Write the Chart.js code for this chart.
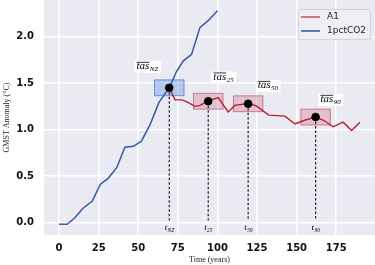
<!DOCTYPE html>
<html><head><meta charset="utf-8">
<script src="https://cdn.jsdelivr.net/npm/chart.js@4/dist/chart.umd.min.js"></script>
<style>html,body{margin:0;padding:0;background:#fff}#wrap{width:375px;height:265px}</style>
</head><body><div id="wrap"><canvas id="c" width="375" height="265"></canvas></div>
<script>
// ---- data ----
const co2Years = [0, 5, 10, 15, 21, 26, 31, 36.4, 41.6, 47, 52, 57.4, 63, 67.5, 69.6, 74, 78.5, 83.7, 89, 94, 100];
const co2Anom  = [-0.02, -0.02, 0.05, 0.15, 0.23, 0.41, 0.475, 0.59, 0.81, 0.82, 0.875, 1.05, 1.29, 1.40, 1.45, 1.62, 1.74, 1.81, 2.10, 2.17, 2.28];
const a1Years = [69.6, 73.2, 77.4, 80.5, 85.8, 89, 94.2, 100.5, 106.8, 111, 119.4, 124.5, 132.5, 142.6, 149, 155, 162, 167, 173, 179.4, 184.7, 190];
const a1Anom  = [1.45, 1.32, 1.32, 1.30, 1.25, 1.26, 1.31, 1.345, 1.19, 1.26, 1.28, 1.255, 1.155, 1.145, 1.06, 1.10, 1.135, 1.10, 1.03, 1.08, 0.99, 1.08];
const seriesNames = ['A1', '1pctCO2'];
const markerNames = ['NZ', '25', '50', '90'];
const markerYears = [69.6, 94.2, 119.4, 162];
const markerAnom  = [1.45, 1.305, 1.278, 1.135];
const tasLabelYears = [56, 104, 132, 171.6];
const tasLabelAnom  = [1.675, 1.56, 1.47, 1.32];
const xTicks = [0, 25, 50, 75, 100, 125, 150, 175];
const yTicks = [0, 0.5, 1.0, 1.5, 2.0];

const RED = 'rgb(185,30,50)';
const BLUE = 'rgb(52,90,168)';

const pts = (xs, ys) => xs.map((x, i) => ({x: x, y: ys[i]}));
const dashData = [];
markerYears.forEach((x, i) => { dashData.push({x: x, y: markerAnom[i]}, {x: x, y: 0.02}, {x: x, y: null}); });

const bgPlugin = {
  id: 'decor',
  beforeDraw(chart) {
    const a = chart.chartArea, ctx = chart.ctx;
    ctx.save(); ctx.fillStyle = '#EAEAF2';
    ctx.fillRect(a.left, a.top, a.right - a.left, a.bottom - a.top);
    ctx.restore();
  },
  beforeDatasetsDraw(chart) {
    const ctx = chart.ctx, xs = chart.scales.x, ys = chart.scales.y;
    ctx.save();
    markerYears.forEach((mx, i) => {
      const x0 = xs.getPixelForValue(mx - 9.3), x1 = xs.getPixelForValue(mx + 9.3);
      const y0 = ys.getPixelForValue(markerAnom[i] + 0.085), y1 = ys.getPixelForValue(markerAnom[i] - 0.085);
      if (i === 0) { ctx.fillStyle = 'rgba(90,140,225,0.38)'; ctx.strokeStyle = 'rgba(70,120,210,0.75)'; }
      else { ctx.fillStyle = 'rgba(205,95,130,0.30)'; ctx.strokeStyle = 'rgba(190,70,105,0.65)'; }
      ctx.lineWidth = 1;
      ctx.fillRect(x0, y0, x1 - x0, y1 - y0);
      ctx.strokeRect(x0, y0, x1 - x0, y1 - y0);
    });
    ctx.restore();
  },
  afterDatasetsDraw(chart) {
    const ctx = chart.ctx, xs = chart.scales.x, ys = chart.scales.y;
    ctx.save();
    markerNames.forEach((nm, i) => {
      const cx = xs.getPixelForValue(tasLabelYears[i]), cy = ys.getPixelForValue(tasLabelAnom[i]);
      const mainF = 'italic 11px "Liberation Serif"', subF = 'italic 7px "Liberation Serif"';
      ctx.font = mainF; const w1 = ctx.measureText('tas').width;
      ctx.font = subF; const w2 = ctx.measureText(nm).width;
      const w = w1 + w2 + 1, x0 = cx - w / 2;
      ctx.fillStyle = '#fff'; ctx.fillRect(x0 - 2, cy - 6, w + 4, 12);
      ctx.fillStyle = '#000'; ctx.textAlign = 'left'; ctx.textBaseline = 'alphabetic';
      ctx.font = mainF; ctx.fillText('tas', x0, cy + 2.5);
      ctx.fillRect(x0, cy - 5, w1, 0.8);
      ctx.font = subF; ctx.fillText(nm, x0 + w1 + 0.5, cy + 4.5);
      const tx = xs.getPixelForValue(markerYears[i]), ty = ys.getPixelForValue(-0.05);
      ctx.font = 'italic 9px "Liberation Serif"'; const tw = ctx.measureText('t').width;
      ctx.font = 'italic 5.5px "Liberation Serif"'; const sw = ctx.measureText(nm).width;
      const tx0 = tx - (tw + sw) / 2;
      ctx.font = 'italic 9px "Liberation Serif"'; ctx.fillText('t', tx0, ty + 3);
      ctx.font = 'italic 5.5px "Liberation Serif"'; ctx.fillText(nm, tx0 + tw + 0.3, ty + 5);
    });
    const lx = 298, ly = 9, lw = 72, lh = 30;
    ctx.fillStyle = 'rgba(238,238,245,0.9)'; ctx.strokeStyle = 'rgb(210,210,215)'; ctx.lineWidth = 1;
    ctx.beginPath(); ctx.roundRect(lx + 0.5, ly + 0.5, lw, lh, 2); ctx.fill(); ctx.stroke();
    const ds = chart.data.datasets;
    [0, 1].forEach((k, j) => {
      const y = ly + 8 + j * 14;
      ctx.strokeStyle = ds[k].legendColor; ctx.lineWidth = 1.6;
      ctx.beginPath(); ctx.moveTo(lx + 3, y); ctx.lineTo(lx + 22, y); ctx.stroke();
      ctx.fillStyle = '#222'; ctx.font = '9px "DejaVu Sans"'; ctx.textBaseline = 'middle';
      ctx.fillText(ds[k].label, lx + 29, y);
    });
    ctx.restore();
  }
};

const noPad = s => { s.paddingTop = 0; s.paddingBottom = 0; s.paddingLeft = 0; s.paddingRight = 0; };

new Chart(document.getElementById('c'), {
  type: 'line',
  data: {
    datasets: [
      {label: seriesNames[0], data: pts(a1Years, a1Anom), borderColor: RED, legendColor: 'rgba(195,60,80,0.85)', borderWidth: 1.4, pointRadius: 0, tension: 0, order: 2},
      {label: seriesNames[1], data: pts(co2Years, co2Anom), borderColor: BLUE, legendColor: BLUE, borderWidth: 1.5, pointRadius: 0, tension: 0, order: 2},
      {label: 'dashes', data: dashData, borderColor: '#222', borderWidth: 1.2, borderDash: [2.5, 2], pointRadius: 0, spanGaps: false, order: 3},
      {label: 'markers', type: 'scatter', data: pts(markerYears, markerAnom), backgroundColor: '#000', borderColor: '#000', pointRadius: 3.8, order: 0}
    ]
  },
  options: {
    responsive: false, devicePixelRatio: 1, animation: false,
    layout: {padding: 0, autoPadding: false},
    plugins: {legend: {display: false}, tooltip: {enabled: false}},
    scales: {
      x: {
        type: 'linear', min: -9.5, max: 199.5,
        afterBuildTicks: s => { s.ticks = xTicks.map(v => ({value: v})); },
        afterFit: s => { s.height = 30; noPad(s); },
        grid: {color: '#fff', lineWidth: 1.5, drawTicks: false},
        border: {display: false},
        ticks: {padding: 7, color: '#111', font: {family: 'DejaVu Sans', weight: 'bold', size: 10}, maxRotation: 0},
        title: {display: true, text: 'Time (years)', color: '#222', font: {family: 'Liberation Serif', size: 8}, padding: {top: 2, bottom: 0}}
      },
      y: {
        type: 'linear', min: -0.135, max: 2.395,
        afterBuildTicks: s => { s.ticks = yTicks.map(v => ({value: v})); },
        afterFit: s => { s.width = 44; noPad(s); },
        grid: {color: '#fff', lineWidth: 1.5, drawTicks: false},
        border: {display: false},
        ticks: {padding: 10, color: '#111', font: {family: 'DejaVu Sans', weight: 'bold', size: 10}, callback: v => v.toFixed(1)},
        title: {display: true, text: 'GMST Anomaly (°C)', color: '#222', font: {family: 'Liberation Serif', size: 8}, padding: {top: 2, bottom: 0}}
      }
    }
  },
  plugins: [bgPlugin]
});
</script></body></html>
